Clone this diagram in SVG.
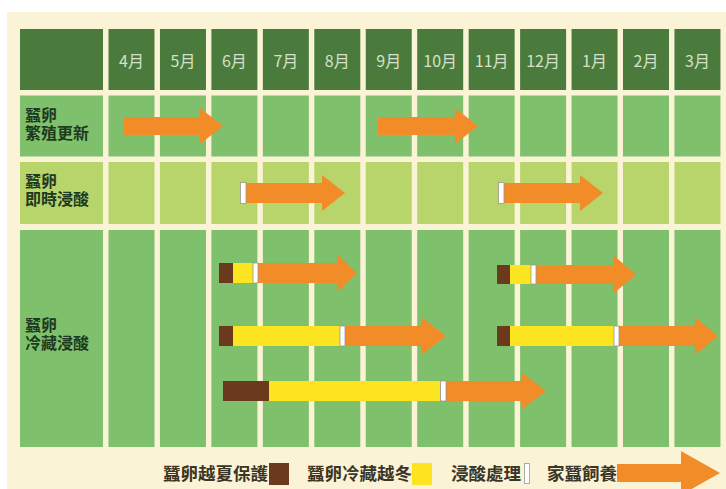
<svg xmlns="http://www.w3.org/2000/svg" width="726" height="489" viewBox="0 0 726 489">
<style>
.hd{fill:#4b7b3c}
.g{fill:#7fc06c}
.lg{fill:#b8d56c}
.mo{font-family:"Noto Sans CJK TC","Noto Sans",sans-serif;font-size:16px;fill:#d3e2c8;text-anchor:middle}
.lb{font-family:"Liberation Sans","Noto Sans CJK TC",sans-serif;font-size:16px;fill:#1e3a1e;font-weight:bold}
.lgd{font-family:"Noto Sans CJK TC",sans-serif;font-size:17.5px;fill:#3b3526;font-weight:bold}
.ar{fill:#f28c28}
.br{fill:#6b3a1c}
.ye{fill:#fde420}
.wm{fill:#ffffff;stroke:#9a9a8a;stroke-width:0.8}
</style>
<rect width="726" height="489" fill="#ffffff"/>
<rect x="7" y="12" width="719" height="477" fill="#fbf3d6"/>

<g id="header">
<rect class="hd" x="20" y="29" width="83" height="61"/>
<rect class="hd" x="108.5" y="29" width="46" height="61"/>
<rect class="hd" x="159.95" y="29" width="46" height="61"/>
<rect class="hd" x="211.4" y="29" width="46" height="61"/>
<rect class="hd" x="262.85" y="29" width="46" height="61"/>
<rect class="hd" x="314.3" y="29" width="46" height="61"/>
<rect class="hd" x="365.75" y="29" width="46" height="61"/>
<rect class="hd" x="417.2" y="29" width="46" height="61"/>
<rect class="hd" x="468.65" y="29" width="46" height="61"/>
<rect class="hd" x="520.1" y="29" width="46" height="61"/>
<rect class="hd" x="571.55" y="29" width="46" height="61"/>
<rect class="hd" x="623" y="29" width="46" height="61"/>
<rect class="hd" x="674.45" y="29" width="46" height="61"/>
<text class="mo" x="131.5" y="67">4月</text>
<text class="mo" x="182.95" y="67">5月</text>
<text class="mo" x="234.4" y="67">6月</text>
<text class="mo" x="285.85" y="67">7月</text>
<text class="mo" x="337.3" y="67">8月</text>
<text class="mo" x="388.75" y="67">9月</text>
<text class="mo" x="440.2" y="67">10月</text>
<text class="mo" x="491.65" y="67">11月</text>
<text class="mo" x="543.1" y="67">12月</text>
<text class="mo" x="594.55" y="67">1月</text>
<text class="mo" x="646" y="67">2月</text>
<text class="mo" x="697.45" y="67">3月</text>
</g>

<g id="row1">
<rect class="g" x="20" y="95.5" width="83" height="61"/>
<rect class="g" x="108.5" y="95.5" width="46" height="61"/>
<rect class="g" x="159.95" y="95.5" width="46" height="61"/>
<rect class="g" x="211.4" y="95.5" width="46" height="61"/>
<rect class="g" x="262.85" y="95.5" width="46" height="61"/>
<rect class="g" x="314.3" y="95.5" width="46" height="61"/>
<rect class="g" x="365.75" y="95.5" width="46" height="61"/>
<rect class="g" x="417.2" y="95.5" width="46" height="61"/>
<rect class="g" x="468.65" y="95.5" width="46" height="61"/>
<rect class="g" x="520.1" y="95.5" width="46" height="61"/>
<rect class="g" x="571.55" y="95.5" width="46" height="61"/>
<rect class="g" x="623" y="95.5" width="46" height="61"/>
<rect class="g" x="674.45" y="95.5" width="46" height="61"/>
<text class="lb" x="25" y="121">蠶卵<tspan x="25" dy="18">繁殖更新</tspan></text>
</g>

<g id="row2">
<rect class="lg" x="20" y="162" width="83" height="62"/>
<rect class="lg" x="108.5" y="162" width="46" height="62"/>
<rect class="lg" x="159.95" y="162" width="46" height="62"/>
<rect class="lg" x="211.4" y="162" width="46" height="62"/>
<rect class="lg" x="262.85" y="162" width="46" height="62"/>
<rect class="lg" x="314.3" y="162" width="46" height="62"/>
<rect class="lg" x="365.75" y="162" width="46" height="62"/>
<rect class="lg" x="417.2" y="162" width="46" height="62"/>
<rect class="lg" x="468.65" y="162" width="46" height="62"/>
<rect class="lg" x="520.1" y="162" width="46" height="62"/>
<rect class="lg" x="571.55" y="162" width="46" height="62"/>
<rect class="lg" x="623" y="162" width="46" height="62"/>
<rect class="lg" x="674.45" y="162" width="46" height="62"/>
<text class="lb" x="25" y="187">蠶卵<tspan x="25" dy="18">即時浸酸</tspan></text>
</g>

<g id="row3">
<rect class="g" x="20" y="230" width="83" height="217"/>
<rect class="g" x="108.5" y="230" width="46" height="217"/>
<rect class="g" x="159.95" y="230" width="46" height="217"/>
<rect class="g" x="211.4" y="230" width="46" height="217"/>
<rect class="g" x="262.85" y="230" width="46" height="217"/>
<rect class="g" x="314.3" y="230" width="46" height="217"/>
<rect class="g" x="365.75" y="230" width="46" height="217"/>
<rect class="g" x="417.2" y="230" width="46" height="217"/>
<rect class="g" x="468.65" y="230" width="46" height="217"/>
<rect class="g" x="520.1" y="230" width="46" height="217"/>
<rect class="g" x="571.55" y="230" width="46" height="217"/>
<rect class="g" x="623" y="230" width="46" height="217"/>
<rect class="g" x="674.45" y="230" width="46" height="217"/>
<text class="lb" x="25" y="331">蠶卵<tspan x="25" dy="18">冷藏浸酸</tspan></text>
</g>

<g id="bars">
<!-- row 1 -->
<path class="ar" d="M124,117 H200 V108 L223,126 L200,144 V135 H124 Z"/>
<path class="ar" d="M378,117 H455 V108 L478,126 L455,144 V135 H378 Z"/>
<!-- row 2 -->
<path class="ar" d="M246,183 H322 V175 L345,193 L322,211 V203 H246 Z"/>
<rect class="wm" x="240.5" y="182.5" width="5.5" height="21"/>
<path class="ar" d="M504,183 H580 V175 L603,193 L580,211 V203 H504 Z"/>
<rect class="wm" x="498.5" y="182.5" width="5.5" height="21"/>
<!-- row 3 group A -->
<rect class="br" x="219" y="263" width="14" height="20"/>
<rect class="ye" x="233" y="263" width="20" height="20"/>
<path class="ar" d="M258,263 H337 V254 L357,273 L337,292 V283 H258 Z"/>
<rect class="wm" x="253" y="263" width="5" height="20"/>
<rect class="br" x="497" y="265" width="13" height="19"/>
<rect class="ye" x="510" y="265" width="21" height="19"/>
<path class="ar" d="M536,265 H613 V255 L636,274.5 L613,294 V284 H536 Z"/>
<rect class="wm" x="531" y="265" width="5" height="19"/>
<!-- row 3 group B -->
<rect class="br" x="219" y="326" width="14" height="20"/>
<rect class="ye" x="233" y="326" width="107" height="20"/>
<path class="ar" d="M345,326 H421 V317 L446,336 L421,355 V346 H345 Z"/>
<rect class="wm" x="340" y="326" width="5" height="20"/>
<rect class="br" x="497" y="326" width="13" height="20"/>
<rect class="ye" x="510" y="326" width="104" height="20"/>
<path class="ar" d="M619,326 H695 V317 L718,336 L695,355 V346 H619 Z"/>
<rect class="wm" x="614" y="326" width="5" height="20"/>
<!-- row 3 group C -->
<rect class="br" x="223" y="381" width="46" height="20"/>
<rect class="ye" x="269" y="381" width="171" height="20"/>
<path class="ar" d="M446,381 H521 V372 L546,391 L521,410 V401 H446 Z"/>
<rect class="wm" x="440.5" y="381" width="5.5" height="20"/>
</g>

<g id="legend">
<text class="lgd" x="163" y="480">蠶卵越夏保護</text>
<rect class="br" x="269" y="463" width="20" height="22"/>
<text class="lgd" x="307" y="480">蠶卵冷藏越冬</text>
<rect class="ye" x="412" y="463" width="20" height="22"/>
<text class="lgd" x="451" y="480">浸酸處理</text>
<rect class="wm" x="524.5" y="463.5" width="5" height="20"/>
<text class="lgd" x="547" y="480">家蠶飼養</text>
<path class="ar" d="M617,464 H681 V451 L720,473 L681,495 V482 H617 Z"/>
</g>
</svg>
